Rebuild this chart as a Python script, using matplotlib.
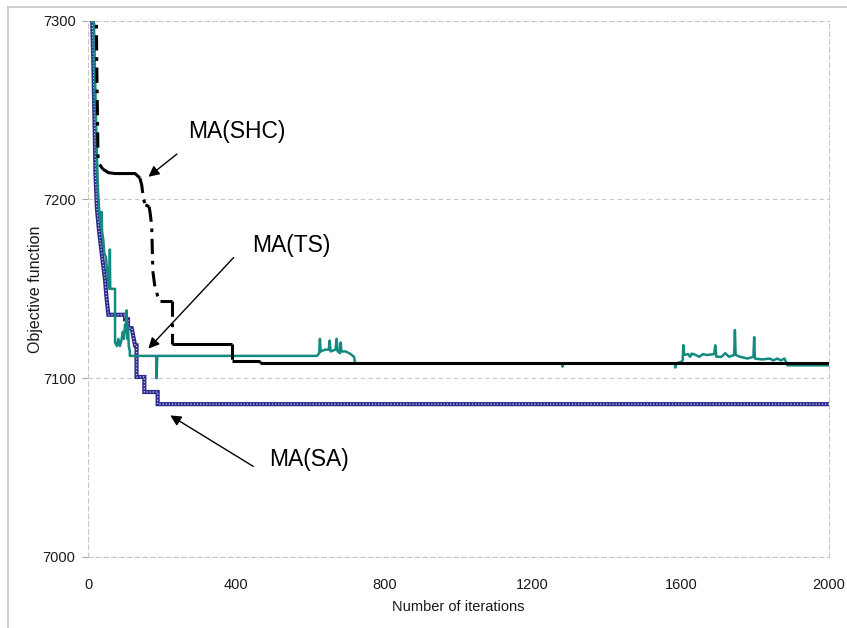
import matplotlib
matplotlib.use("Agg")
import matplotlib.pyplot as plt
from matplotlib.lines import Line2D
import numpy as np

plt.rcParams['font.family'] = ['Liberation Sans', 'DejaVu Sans']

# ---------------- data ----------------
shc_iter = [22, 24, 26, 27, 30, 40, 55, 73, 127, 135, 140, 145, 150, 155, 165, 168,
            172, 175, 180, 188, 195, 227, 227, 390, 390, 465, 465, 2000]
shc_val = [7310, 7270, 7240, 7224, 7220, 7217, 7215, 7214.5, 7214.5, 7213, 7212, 7208,
           7200, 7197, 7196, 7192, 7185, 7160, 7152, 7146, 7143, 7143, 7119, 7119,
           7109.5, 7109.5, 7108.5, 7108.5]

ts_iter = [15, 18, 21, 24, 27, 30, 33, 36, 37, 38, 41, 44, 48, 52, 55, 58, 59, 60, 73, 73,
           78, 82, 86, 90, 94, 97, 100, 102, 104, 106, 108, 110, 113, 113, 184, 185, 187,
           618, 624, 626, 628, 640, 650, 652, 655, 668, 671, 674, 680, 682, 684, 695, 705,
           712, 718, 721, 1280, 1281, 1283, 1584, 1585, 1587, 1600, 1605, 1607, 1609, 1620,
           1625, 1630, 1640, 1650, 1660, 1670, 1690, 1693, 1696, 1710, 1720, 1730, 1744,
           1746, 1748, 1760, 1780, 1796, 1798, 1800, 1820, 1840, 1850, 1860, 1870, 1880,
           1888, 2000]
ts_val = [7310, 7280, 7250, 7225, 7205, 7195, 7188, 7184, 7193, 7182, 7178, 7170, 7168,
          7160, 7152, 7150, 7172, 7150, 7150, 7120, 7118, 7122, 7118, 7121, 7126, 7122,
          7130, 7126, 7138, 7122, 7128, 7118, 7115, 7112.5, 7112.5, 7100, 7112.5,
          7112.5, 7114, 7122, 7115, 7116, 7116, 7121, 7115, 7116, 7122, 7115, 7114, 7120,
          7115, 7115, 7114, 7113, 7112, 7108.4, 7108.4, 7106.5, 7108.4, 7108.4, 7106,
          7108.4, 7109, 7110, 7118.5, 7113, 7113.5, 7112, 7113.8, 7113, 7112, 7113.5,
          7113, 7113.5, 7118.4, 7112, 7112, 7114, 7112, 7113, 7127, 7113, 7112, 7111,
          7112, 7123, 7111, 7110.5, 7111, 7110, 7111, 7110, 7111, 7107.2, 7107.2]

sa_iter = [10, 14, 18, 20, 24, 30, 38, 46, 50, 55, 100, 100, 108, 108, 118, 127, 131, 131,
           152, 152, 188, 188, 2000]
sa_val = [7310, 7280, 7240, 7215, 7195, 7182, 7168, 7155, 7145, 7135.5, 7135.5, 7133, 7133,
          7128, 7128, 7118.4, 7118.4, 7100.7, 7100.7, 7092.3, 7092.3, 7085.5, 7085.5]

x_ticks = [0, 400, 800, 1200, 1600, 2000]
y_ticks = [7000, 7100, 7200, 7300]

labels = ["MA(SHC)", "MA(TS)", "MA(SA)"]
label_xy = [(403, 7238), (549, 7174.5), (597, 7054.5)]
arrow_tip = [(163, 7212.7), (163, 7116.6), (222, 7079.2)]
arrow_tail = [(240, 7225.4), (393, 7167.5), (446, 7050.7)]

# ---------------- figure ----------------
W, H = 847, 628
fig = plt.figure(figsize=(W / 100, H / 100), dpi=100)
ax = fig.add_axes([88 / W, 1 - 557 / H, (829 - 88) / W, (557 - 20.7) / H])

ax.set_xlim(0, 2000)
ax.set_ylim(7000, 7300)
ax.set_xticks(x_ticks)
ax.set_yticks(y_ticks)
grid_kw = dict(color='#c8c8c8', linestyle=(0, (4, 3)), linewidth=0.8)
for s in ax.spines.values():
    s.set_visible(True)
    s.set_color('#c8c8c8')
    s.set_linestyle((0, (4, 3)))
    s.set_linewidth(0.8)
ax.grid(True, axis='y', **grid_kw)
ax.set_axisbelow(True)
ax.tick_params(axis='y', length=4, color='#a8a8a8', width=0.8, pad=5, labelsize=10.5,
               labelcolor='#1a1a1a')
ax.tick_params(axis='x', length=0, pad=15, labelsize=10.5, labelcolor='#1a1a1a')

# SA : navy patterned line
ax.plot(sa_iter, sa_val, color='#2b2b8f', linewidth=3.0, solid_joinstyle='miter',
        zorder=3)
ax.plot(sa_iter, sa_val, color='#d0d0ec', linewidth=0.9, linestyle=(0, (1, 1.5)),
        zorder=3.1)

# TS : teal
ax.plot(ts_iter, ts_val, color='#138a80', linewidth=1.8, zorder=4)

# SHC : black, dash-dot on steep parts, solid on flat parts
xi = np.array(shc_iter, dtype=float)
yv = np.array(shc_val, dtype=float)
px_per_x = (829 - 88) / 2000
px_per_y = (557 - 20.7) / 300
groups = []
for i in range(len(xi) - 1):
    steep = abs(yv[i + 1] - yv[i]) * px_per_y > abs(xi[i + 1] - xi[i]) * px_per_x
    if groups and groups[-1][0] == steep:
        groups[-1][1].append(i + 1)
    else:
        groups.append([steep, [i, i + 1]])
for steep, idx in groups:
    ax.plot(xi[idx], yv[idx], color='black', linewidth=2.2,
            linestyle=(0, (5, 2.2, 1.2, 2.2)) if steep else '-',
            solid_capstyle='butt', zorder=5)

# annotations
for lab, (tx, ty), tip, tail in zip(labels, label_xy, arrow_tip, arrow_tail):
    ax.text(tx, ty, lab, fontsize=16.5, ha='center', va='center', color='black',
            zorder=6)
    ax.annotate('', xy=tip, xytext=tail,
                arrowprops=dict(arrowstyle='-|>', color='black', lw=1.0,
                                mutation_scale=16, shrinkA=0, shrinkB=0),
                zorder=6)

ax.set_xlabel('Number of iterations', fontsize=10.5, labelpad=6, color='#1a1a1a')
ax.set_ylabel('Objective function', fontsize=11.5, labelpad=0, color='#1a1a1a')

# outer chart border (left & top visible)
fig.add_artist(Line2D([8 / W, 8 / W], [0, 1 - 7 / H], transform=fig.transFigure,
                      color='#c8c8c8', linewidth=1.2))
fig.add_artist(Line2D([8 / W, 1], [1 - 7 / H, 1 - 7 / H], transform=fig.transFigure,
                      color='#c8c8c8', linewidth=1.2))

fig.savefig('out.png', dpi=100)
